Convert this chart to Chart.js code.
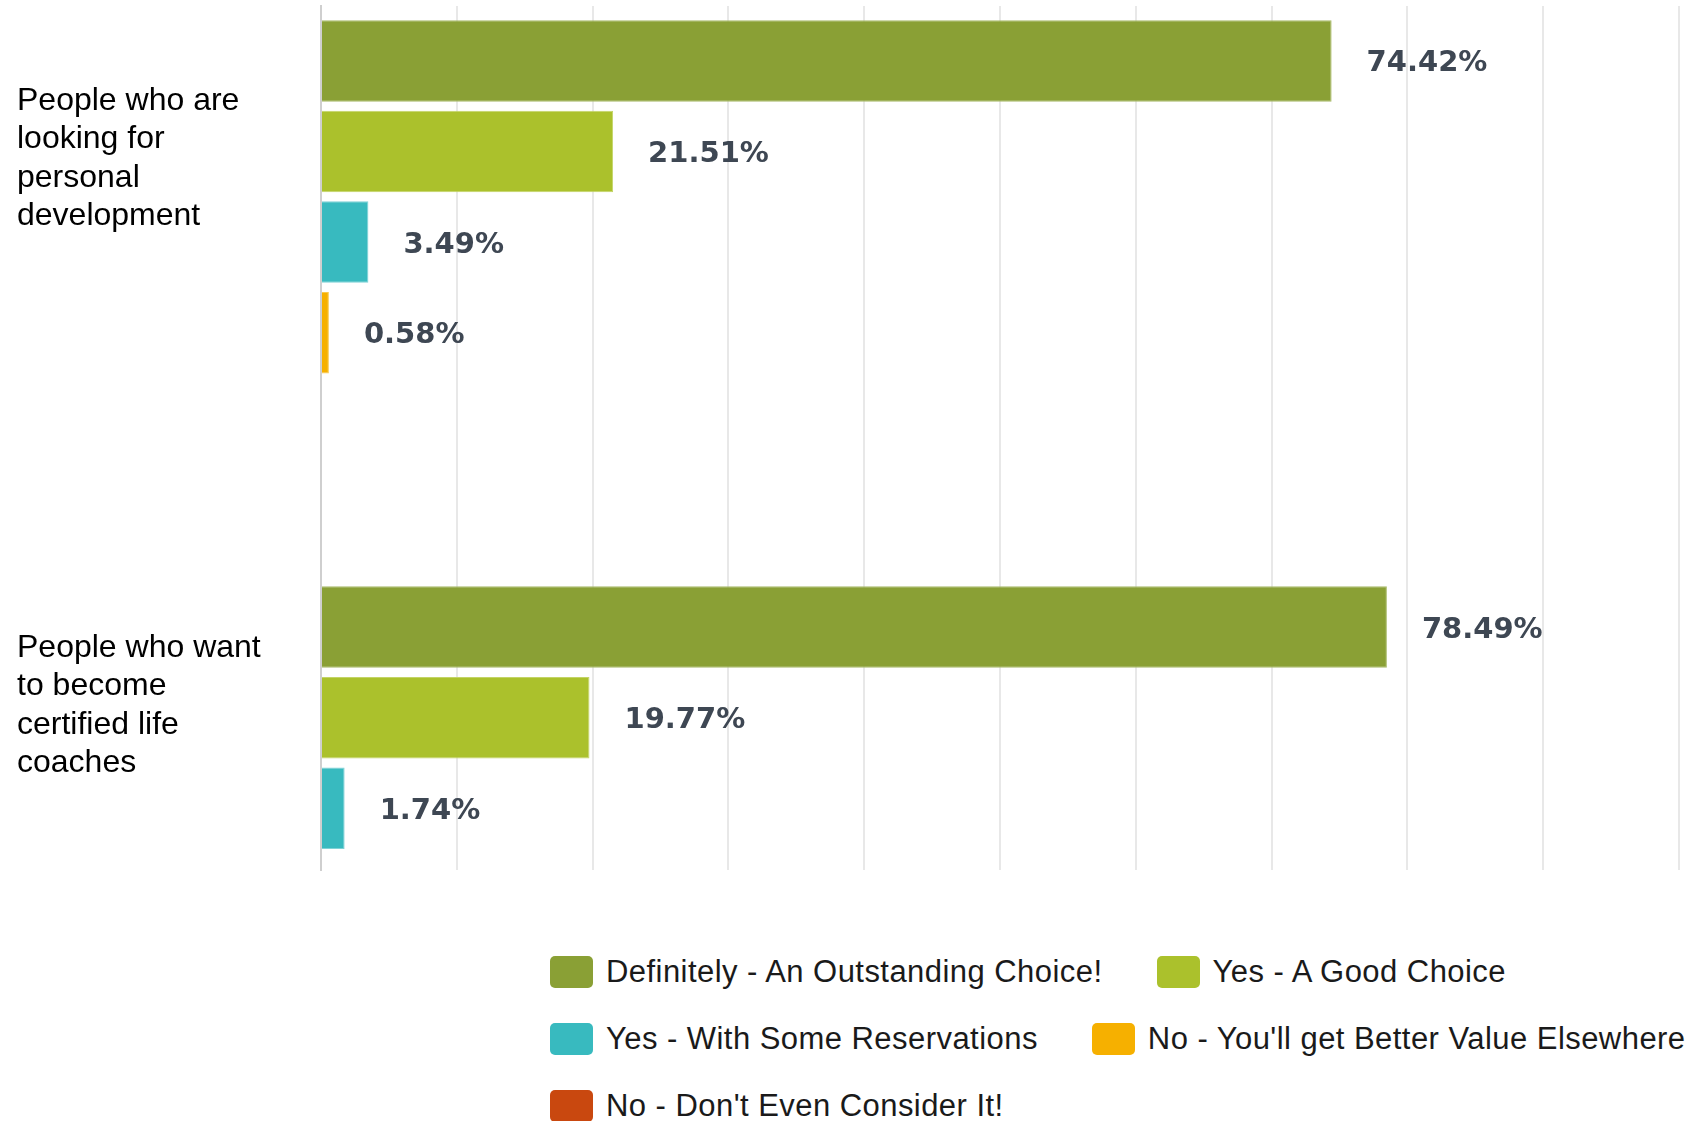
<!DOCTYPE html>
<html>
<head>
<meta charset="utf-8">
<title>Would you recommend this course?</title>
<script src="https://cdn.jsdelivr.net/npm/chart.js@4.4.1/dist/chart.umd.min.js"></script>
<style>
  html, body { margin:0; padding:0; background:#fff; overflow:hidden; }
  #wrap { position:absolute; left:0; top:0; width:1688px; height:880px; }
  #legend { position:absolute; left:550px; top:938px; width:1300px; display:flex; flex-wrap:wrap;
            font:31px 'Liberation Sans', Arial, sans-serif; letter-spacing:.45px; color:#1a1a1a; }
  #legend .item { display:flex; align-items:center; height:67px; margin-right:54px; white-space:nowrap; line-height:1; }
  #legend .swatch { width:43px; height:32px; border-radius:5px; margin-right:13px; flex:none; }
</style>
</head>
<body>
<div id="wrap"><canvas id="chart"></canvas></div>
<div id="legend"></div>

<script>
/* Recommendation survey — horizontal grouped bars */
const $ = (sel, el=document) => el.querySelector(sel);

const groups = [
  ['People who are', 'looking for', 'personal', 'development'],
  ['People who want', 'to become', 'certified life', 'coaches']
];
const answers = [
  'Definitely - An Outstanding Choice!',
  'Yes - A Good Choice',
  'Yes - With Some Reservations',
  "No - You'll get Better Value Elsewhere",
  "No - Don't Even Consider It!"
];
const personalDev = [74.42, 21.51, 3.49, 0.58, 0];   // % per answer
const lifeCoaches = [78.49, 19.77, 1.74, 0, 0];
const xTicks = [0, 10, 20, 30, 40, 50, 60, 70, 80, 90, 100];

const fills   = ['#8aa035', '#abc12c', '#38babf', '#f6b000', '#c9480f'];
const borders = ['#a9bb6a', '#c3d466', '#7ed2d6', '#f9c94d', '#dc7a4c'];

// group label anchors on the (linear) index axis
const labelPos = [-0.147, 0.853];

// percent text to the right of each bar
const valueLabels = {
  id: 'valueLabels',
  afterDatasetsDraw(chart){
    const ctx = chart.ctx;
    ctx.save();
    ctx.font = 'bold 29px "DejaVu Sans"';
    ctx.fillStyle = '#3e4753';
    ctx.textBaseline = 'middle';
    ctx.textAlign = 'left';
    chart.data.datasets.forEach((ds, i) => {
      chart.getDatasetMeta(i).data.forEach((bar, j) => {
        const v = ds.data[j].x;
        if(!v) return;
        ctx.fillText(v.toFixed(2) + '%', bar.x + 35, bar.y + 3);
      });
    });
    ctx.restore();
  }
};

const datasets = answers.map((label, i) => ({
  label,
  data: [{x: personalDev[i], y: 0}, {x: lifeCoaches[i], y: 1}],
  backgroundColor: fills[i],
  borderColor: borders[i],
  borderWidth: 1,
  categoryPercentage: 0.8,
  barPercentage: 0.9
}));

const chart = new Chart($('#chart'), {
  type: 'bar',
  data: { datasets },
  plugins: [valueLabels],
  options: {
    indexAxis: 'y',
    responsive: true,
    maintainAspectRatio: false,
    animation: false,
    layout: { padding: {left:17, right:9, top:6, bottom:10} },
    plugins: { legend: {display:false}, tooltip: {enabled:false} },
    scales: {
      x: {
        type: 'linear', min: 0, max: 100,
        afterBuildTicks: s => { s.ticks = xTicks.map(value => ({value})); },
        ticks: { display:false },
        grid: { color:'#e8e8e8', lineWidth:2, drawTicks:false },
        border: { display:false }
      },
      y: {
        type: 'linear', reverse: true, offset: false, min: -0.417, max: 1.109,
        afterBuildTicks: s => { s.ticks = labelPos.map(value => ({value})); },
        afterFit: s => { s.width = 304; s.paddingTop = 0; s.paddingBottom = 0; },
        ticks: {
          autoSkip: false,
          crossAlign: 'far',
          color: '#000',
          font: { family:'"Liberation Sans", Arial, sans-serif', size:32, lineHeight:1.2 },
          // trailing blank line lifts the second label a little
          callback: (v, i) => i === 1 ? [...groups[i], ''] : groups[i]
        },
        grid: { display:false, drawTicks:false, offset:false },
        border: { color:'#cfcfcf', width:2 }
      }
    }
  }
});

// html legend, wraps like the survey tool's
function renderLegend(){
  const box = $('#legend'); box.innerHTML = '';
  chart.data.datasets.forEach(ds => {
    const item = document.createElement('div');
    item.className = 'item';
    item.innerHTML = `<span class="swatch" style="background:${ds.backgroundColor}"></span><span>${ds.label}</span>`;
    box.appendChild(item);
  });
}
renderLegend();
</script>
</body>
</html>
